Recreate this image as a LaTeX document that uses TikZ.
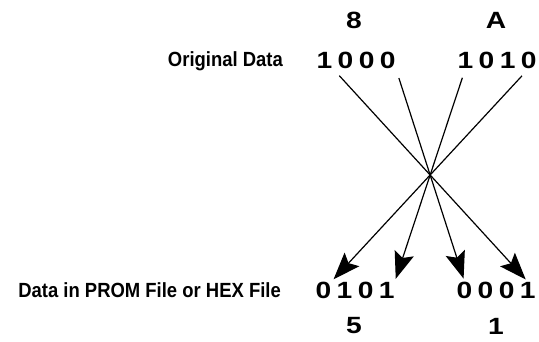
\documentclass[tikz,border=0pt]{standalone}
\usepackage{fontspec}
\setmainfont{Liberation Sans}
\newfontfamily\digitfont[FakeStretch=1.2]{Liberation Sans}
\newfontfamily\labelfont[FakeStretch=0.9]{Liberation Sans}
\usetikzlibrary{arrows.meta, positioning}

\begin{document}
\begin{tikzpicture}[
    x=1pt, y=-1pt,
    node distance=5pt,
    bit/.style={inner sep=0pt, font=\digitfont\bfseries\fontsize{23.5}{23.5}\selectfont},
    hexval/.style={bit},
    caption/.style={anchor=east, inner sep=0pt, font=\labelfont\bfseries\fontsize{20.5}{20.5}\selectfont},
    swaparrow/.style={-{Stealth[length=27pt, width=20pt, inset=5pt]}, line width=1.2pt, shorten <=10pt, shorten >=3pt}
]
\useasboundingbox (0,0) rectangle (539,342);

% Hex values
\node (h1) [hexval] at (354,20) {8};
\node (h2) [hexval] at (496,20) {A};
\node (h3) [hexval] at (354,326) {5};
\node (h4) [hexval] at (496,326) {1};

% Original data
\node (orig) [caption] at (283,61) {Original Data};
\node (t1) [bit] at (324.5,60) {1};
\node (t2) [bit, right=of t1] {0};
\node (t3) [bit, right=of t2] {0};
\node (t4) [bit, right=of t3] {0};
\node (t5) [bit] at (465.5,60) {1};
\node (t6) [bit, right=of t5] {0};
\node (t7) [bit, right=of t6] {1};
\node (t8) [bit, right=of t7] {0};

% Data in PROM / HEX file
\node (prom) [caption] at (281,290) {Data in PROM File or HEX File};
\node (b1) [bit] at (323.5,290) {0};
\node (b2) [bit, right=of b1] {1};
\node (b3) [bit, right=of b2] {0};
\node (b4) [bit, right=of b3] {1};
\node (b5) [bit] at (464.5,290) {0};
\node (b6) [bit, right=of b5] {0};
\node (b7) [bit, right=of b6] {0};
\node (b8) [bit, right=of b7] {1};

% Arrows
\draw [swaparrow] (t1.south east) -- (b8.north);
\draw [swaparrow] (t4.south east) -- (b5.north);
\draw [swaparrow] (t5.south) -- (b4.north east);
\draw [swaparrow] (t8.south) -- (b1.north east);

\end{tikzpicture}
\end{document}
